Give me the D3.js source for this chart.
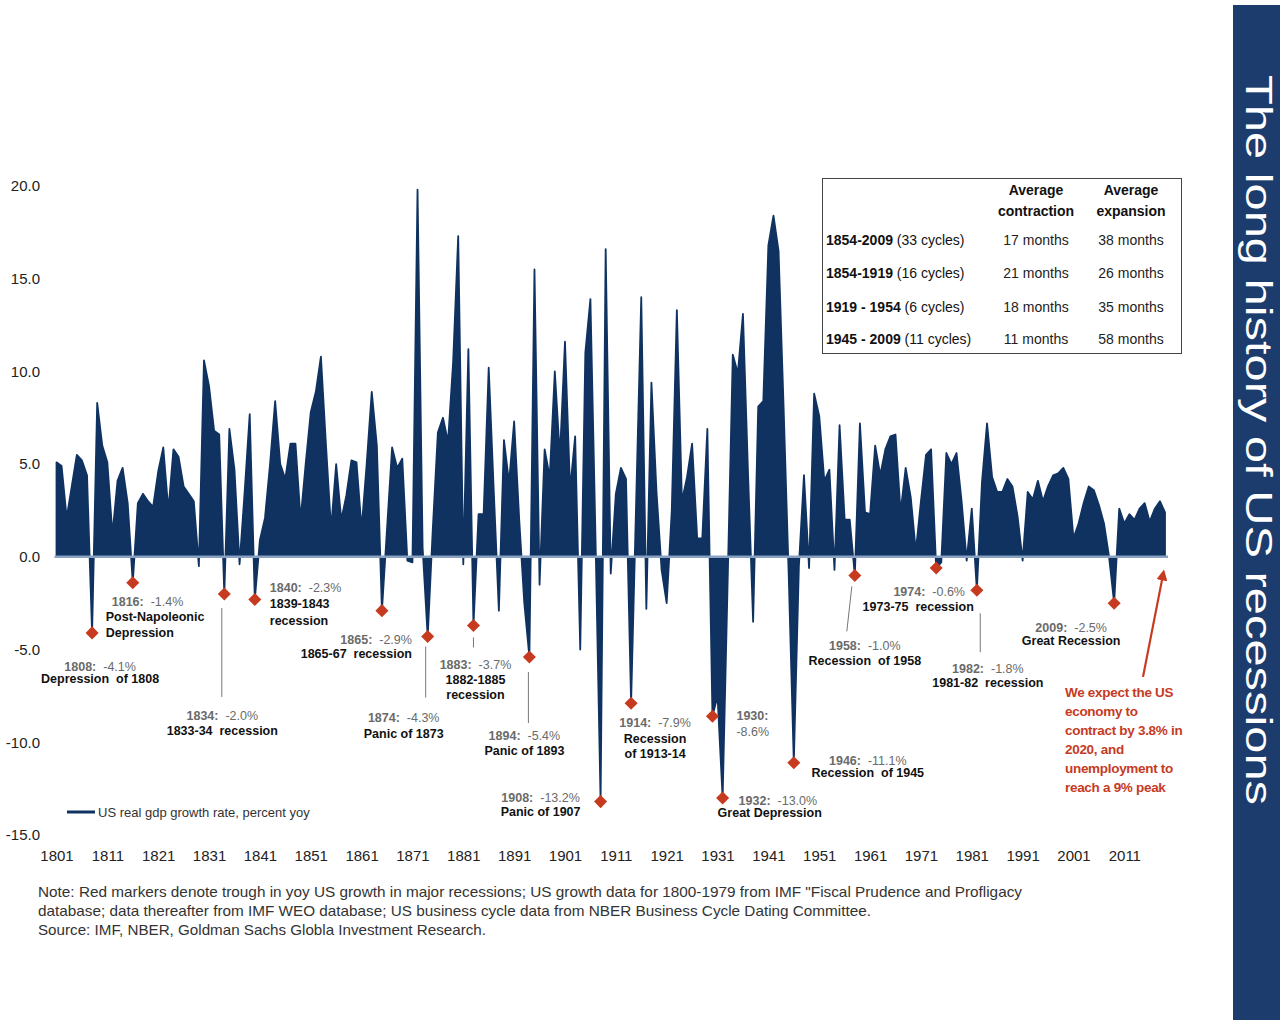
<!DOCTYPE html>
<meta charset="utf-8">
<title>The long history of US recessions</title>
<script src="https://cdn.jsdelivr.net/npm/d3@7"></script>
<style>
body {
	margin: 0;
	background: #fff;
}
svg {
	display: block;
	font-family: 'Liberation Sans', Arial, sans-serif;
}
</style>
<body>
<script>
// US real gdp growth, percent yoy, one value per year from 1801
const startYear = 1801;
const growth = [
	5.1, 4.9, 2.1, 3.8, 5.5, 5.2, 4.4, -4.1, 8.3, 6.0,
	5.1, 1.2, 4.1, 4.8, 2.9, -1.4, 2.9, 3.4, 3.0, 2.7,
	4.6, 5.9, 2.5, 5.8, 5.4, 3.8, 3.4, 3.0, -0.5, 10.6,
	9.2, 6.8, 6.6, -2.0, 6.9, 4.7, -0.4, 3.5, 7.7, -2.3,
	0.9, 2.1, 5.0, 8.4, 5.0, 4.2, 6.1, 6.1, 2.0, 5.0,
	7.8, 8.9, 10.8, 6.0, 1.5, 5.0, 2.0, 3.3, 5.2, 5.1,
	1.5, 5.0, 8.9, 6.0, -2.9, 1.5, 5.9, 4.8, 5.3, -0.2,
	-0.3, 19.8, 0.5, -4.3, 1.5, 6.7, 7.5, 6.2, 10.5, 17.3,
	-0.4, 11.2, -3.7, 2.3, 2.3, 10.2, 3.5, -2.9, 6.3, 4.0,
	7.3, 2.0, -2.5, -5.4, 15.5, -1.5, 5.8, 4.3, 10.0, 5.4,
	11.6, 3.6, 6.5, -5.0, 11.0, 13.9, 1.0, -13.2, 16.6, -0.9,
	3.4, 4.8, 4.2, -7.9, 3.0, 14.0, -2.8, 9.4, 3.5, -0.7,
	-2.5, 2.5, 13.3, 3.0, 4.3, 6.1, 1.0, 1.0, 6.9, -8.6,
	-7.5, -13.0, -1.2, 10.9, 9.9, 13.1, 4.5, -3.5, 8.1, 8.4,
	16.8, 18.4, 16.5, 8.0, -1.0, -11.1, -0.5, 4.4, -0.6, 8.8,
	7.6, 4.1, 4.7, -0.7, 7.1, 2.0, 2.0, -1.0, 7.2, 2.4,
	2.3, 6.0, 4.4, 5.8, 6.5, 6.6, 2.4, 4.8, 3.2, 0.3,
	3.0, 5.5, 5.8, -0.6, -0.3, 5.6, 5.0, 5.6, 3.0, -0.2,
	2.6, -1.8, 4.0, 7.2, 4.3, 3.5, 3.5, 4.2, 3.8, 2.2,
	-0.2, 3.5, 3.1, 4.1, 3.0, 3.8, 4.4, 4.5, 4.8, 4.2,
	1.0, 1.8, 2.9, 3.8, 3.6, 2.8, 1.8, 0.0, -2.5, 2.6,
	1.8, 2.3, 2.0, 2.6, 2.9, 1.9, 2.6, 3.0, 2.4,
];
const xTicks = [1801, 1811, 1821, 1831, 1841, 1851, 1861, 1871, 1881, 1891, 1901, 1911, 1921, 1931, 1941, 1951, 1961, 1971, 1981, 1991, 2001, 2011];
const yTicks = [-15, -10, -5, 0, 5, 10, 15, 20];

// Troughs in major recessions (red markers)
const troughYears = [1808, 1816, 1834, 1840, 1865, 1874, 1883, 1894, 1908, 1914, 1930, 1932, 1946, 1958, 1974, 1982, 2009];
const troughValues = [-4.1, -1.4, -2.0, -2.3, -2.9, -4.3, -3.7, -5.4, -13.2, -7.9, -8.6, -13.0, -11.1, -1.0, -0.6, -1.8, -2.5];
const troughNames = [
	['Depression  of 1808'],
	['Post-Napoleonic', 'Depression'],
	['1833-34  recession'],
	['1839-1843', 'recession'],
	['1865-67  recession'],
	['Panic of 1873'],
	['1882-1885', 'recession'],
	['Panic of 1893'],
	['Panic of 1907'],
	['Recession', 'of 1913-14'],
	[],
	['Great Depression'],
	['Recession  of 1945'],
	['Recession  of 1958'],
	['1973-75  recession'],
	['1981-82  recession'],
	['Great Recession'],
];

// NBER cycle table
const periodNames = ['1854-2009', '1854-1919', '1919 - 1954', '1945 - 2009'];
const periodCycles = ['(33 cycles)', '(16 cycles)', '(6 cycles)', '(11 cycles)'];
const avgContraction = [17, 21, 18, 11];
const avgExpansion = [38, 26, 35, 58];

const title = 'The long history of US recessions';
const legendLabel = 'US real gdp growth rate, percent yoy';
const forecastLines = ['We expect the US', 'economy to', 'contract by 3.8% in', '2020, and', 'unemployment to', 'reach a 9% peak'];
const noteLines = [
	'Note: Red markers denote trough in yoy US growth in major recessions; US growth data for 1800-1979 from IMF "Fiscal Prudence and Profligacy',
	'database; data thereafter from IMF WEO database; US business cycle data from NBER Business Cycle Dating Committee.',
	'Source: IMF, NBER, Goldman Sachs Globla Investment Research.',
];

// Label placement, pixel offsets from each marker
const labelLayout = [
	{ anchor: 'middle', dx: 8, dy: 38, gap: 12.5 },
	{ anchor: 'start', dx: -27, dy: 23, gap: 15.5, yearDx: 6 },
	{ anchor: 'middle', dx: -2, dy: 126, gap: 15, leader: [-2.5, 14, -2.5, 103] },
	{ anchor: 'start', dx: 15, dy: -8, gap: 16.5 },
	{ anchor: 'end', dx: 30, dy: 33, gap: 14 },
	{ anchor: 'middle', dx: -24, dy: 85, gap: 16, leader: [-2, 10, -2, 61] },
	{ anchor: 'middle', dx: 2, dy: 44, gap: 15, leader: [0, 12, 0, 22] },
	{ anchor: 'middle', dx: -5, dy: 83, gap: 15, leader: [-1, 15, -1, 66] },
	{ anchor: 'middle', dx: -60, dy: 0, gap: 14 },
	{ anchor: 'middle', dx: 24, dy: 24, gap: 15.5 },
	{ anchor: 'start', dx: 24, dy: 4, gap: 16, split: true },
	{ anchor: 'start', dx: -5, dy: 7, gap: 12, yearDx: 21 },
	{ anchor: 'middle', dx: 74, dy: 2, gap: 12.5 },
	{ anchor: 'middle', dx: 10, dy: 75, gap: 15, leader: [-3, 11, -8, 56] },
	{ anchor: 'middle', dx: -18, dy: 28, gap: 15, yearDx: 11 },
	{ anchor: 'middle', dx: 11, dy: 83, gap: 14, leader: [3.4, 23, 3.4, 62] },
	{ anchor: 'middle', dx: -43, dy: 29, gap: 12.5 },
];

const navy = '#0f3261';
const zeroColor = '#8aa2c2';
const red = '#c63b1f';
const greyText = '#6a6a6a';
const fmt = v => (v < 0 ? '-' : '') + Math.abs(v).toFixed(1);

const width = 1280;
const height = 1022;

const svg = d3.select('body')
	.append('svg')
		.attr('width', width)
		.attr('height', height);

const x = d3.scaleLinear()
	.domain([startYear, startYear + growth.length - 1])
	.range([56.5, 1165]);
const y = d3.scaleLinear()
	.domain([-15, 20])
	.range([835, 186]);

const data = growth.map((v, i) => ({ year: startYear + i, value: v }));

// Area of growth
svg.append('path')
	.datum(data)
	.attr('fill', navy)
	.attr('stroke', navy)
	.attr('stroke-width', 1.8)
	.attr('stroke-linejoin', 'round')
	.attr('d', d3.area()
		.x(d => x(d.year))
		.y0(y(0))
		.y1(d => y(d.value)));

// Zero line
svg.append('line')
	.attr('x1', x(startYear) - 2)
	.attr('x2', x(startYear + growth.length - 1) + 3)
	.attr('y1', y(0))
	.attr('y2', y(0))
	.attr('stroke', zeroColor)
	.attr('stroke-width', 2.5);

// Axes
const yAxis = svg.append('g')
	.attr('transform', 'translate(44,0)')
	.call(d3.axisLeft(y).tickValues(yTicks).tickFormat(fmt).tickSize(0).tickPadding(4));
const xAxis = svg.append('g')
	.attr('transform', `translate(0,${y(-15)})`)
	.call(d3.axisBottom(x).tickValues(xTicks).tickFormat(d3.format('d')).tickSize(0).tickPadding(15));
[yAxis, xAxis].forEach(axis => {
	axis.select('.domain').remove();
	axis.selectAll('text')
		.attr('font-size', 15)
		.attr('font-family', "'Liberation Sans', Arial, sans-serif")
		.attr('fill', '#222');
});

// Leader lines
svg.append('g')
	.selectAll('line')
	.data(troughYears.map((year, i) => ({ year, value: troughValues[i], layout: labelLayout[i] })).filter(d => d.layout.leader))
	.enter()
		.append('line')
		.attr('x1', d => x(d.year) + d.layout.leader[0])
		.attr('y1', d => y(d.value) + d.layout.leader[1])
		.attr('x2', d => x(d.year) + d.layout.leader[2])
		.attr('y2', d => y(d.value) + d.layout.leader[3])
		.attr('stroke', '#777')
		.attr('stroke-width', 1);

// Markers
svg.append('g')
	.selectAll('path')
	.data(troughYears)
	.enter()
		.append('path')
		.attr('fill', red)
		.attr('d', d3.symbol().type(d3.symbolSquare).size(85))
		.attr('transform', (d, i) => `translate(${x(d)},${y(troughValues[i])}) rotate(45)`);

// Labels
troughYears.forEach((year, i) => {
	const l = labelLayout[i];
	const mx = x(year) + l.dx;
	const my = y(troughValues[i]) + l.dy;
	const g = svg.append('g')
		.attr('font-size', 12.5)
		.attr('text-anchor', l.anchor);
	const yearLine = g.append('text')
		.attr('x', mx + (l.yearDx || 0))
		.attr('y', my)
		.attr('fill', greyText);
	yearLine.append('tspan')
		.attr('font-weight', 'bold')
		.text(year + ':');
	if (l.split) {
		g.append('text')
			.attr('x', mx)
			.attr('y', my + l.gap)
			.attr('fill', greyText)
			.text(fmt(troughValues[i]) + '%');
	}
	else {
		yearLine.append('tspan')
			.text('\u00a0 ' + fmt(troughValues[i]) + '%');
	}
	troughNames[i].forEach((name, j) => {
		g.append('text')
			.attr('x', mx)
			.attr('y', my + (j + 1) * l.gap)
			.attr('font-weight', 'bold')
			.attr('fill', '#111')
			.text(name.replace(/  /g, '\u00a0 '));
	});
});

// Forecast arrow and comment
svg.append('defs')
	.append('marker')
		.attr('id', 'arrow')
		.attr('viewBox', '0 0 10 10')
		.attr('refX', 5)
		.attr('refY', 5)
		.attr('markerWidth', 5)
		.attr('markerHeight', 5)
		.attr('orient', 'auto')
	.append('path')
		.attr('d', 'M0,0 L10,5 L0,10 z')
		.attr('fill', red);
const lastYear = startYear + growth.length - 1;
svg.append('line')
	.attr('x1', x(lastYear) - 22)
	.attr('y1', y(0) + 120)
	.attr('x2', x(lastYear) - 2)
	.attr('y2', y(0) + 18)
	.attr('stroke', red)
	.attr('stroke-width', 2.2)
	.attr('marker-end', 'url(#arrow)');
svg.append('g')
	.selectAll('text')
	.data(forecastLines)
	.enter()
		.append('text')
		.attr('x', 1065)
		.attr('y', (d, i) => 697 + i * 19)
		.attr('font-family', "'Liberation Sans Narrow', 'Arial Narrow', sans-serif")
		.attr('font-size', 13.5)
		.attr('font-weight', 'bold')
		.attr('fill', red)
		.attr('letter-spacing', -0.3)
		.text(d => d);

// Legend
svg.append('line')
	.attr('x1', 67)
	.attr('x2', 95)
	.attr('y1', 812)
	.attr('y2', 812)
	.attr('stroke', navy)
	.attr('stroke-width', 3);
svg.append('text')
	.attr('x', 98)
	.attr('y', 817)
	.attr('font-size', 13)
	.attr('fill', '#333')
	.text(legendLabel);

// Cycle table
const table = svg.append('g');
table.append('rect')
	.attr('x', 822.5)
	.attr('y', 178.5)
	.attr('width', 359)
	.attr('height', 175)
	.attr('fill', '#fff')
	.attr('stroke', '#444')
	.attr('stroke-width', 1);
[['Average', 'contraction', 1036], ['Average', 'expansion', 1131]].forEach(([a, b, cx]) => {
	[a, b].forEach((t, j) => {
		table.append('text')
			.attr('x', cx)
			.attr('y', 195 + j * 21)
			.attr('text-anchor', 'middle')
			.attr('font-size', 14)
			.attr('font-weight', 'bold')
			.attr('fill', '#111')
			.text(t);
	});
});
const rowY = [245, 278, 312, 344];
periodNames.forEach((name, i) => {
	const label = table.append('text')
		.attr('x', 826)
		.attr('y', rowY[i])
		.attr('font-size', 14)
		.attr('fill', '#111');
	label.append('tspan')
		.attr('font-weight', 'bold')
		.text(name);
	label.append('tspan')
		.text(' ' + periodCycles[i]);
	table.append('text')
		.attr('x', 1036)
		.attr('y', rowY[i])
		.attr('text-anchor', 'middle')
		.attr('font-size', 14)
		.attr('fill', '#222')
		.text(avgContraction[i] + ' months');
	table.append('text')
		.attr('x', 1131)
		.attr('y', rowY[i])
		.attr('text-anchor', 'middle')
		.attr('font-size', 14)
		.attr('fill', '#222')
		.text(avgExpansion[i] + ' months');
});

// Notes
const noteLengths = [984, 833, 448];
noteLines.forEach((t, i) => {
	svg.append('text')
		.attr('x', 38)
		.attr('y', 897 + i * 19)
		.attr('font-family', "'Liberation Sans Narrow', 'Arial Narrow', sans-serif")
		.attr('font-size', 14.5)
		.attr('fill', '#333')
		.attr('textLength', noteLengths[i])
		.attr('lengthAdjust', 'spacingAndGlyphs')
		.text(t);
});

// Title bar
svg.append('rect')
	.attr('x', 1233)
	.attr('y', 5)
	.attr('width', 47)
	.attr('height', 1015)
	.attr('fill', '#1b3c6c');
svg.append('text')
	.attr('transform', 'translate(1246,440) rotate(90)')
	.attr('text-anchor', 'middle')
	.attr('font-family', "'Liberation Sans Narrow', 'Arial Narrow', sans-serif")
	.attr('font-size', 37)
	.attr('fill', '#fff')
	.attr('textLength', 730)
	.attr('lengthAdjust', 'spacingAndGlyphs')
	.text(title);
</script>
</body>
